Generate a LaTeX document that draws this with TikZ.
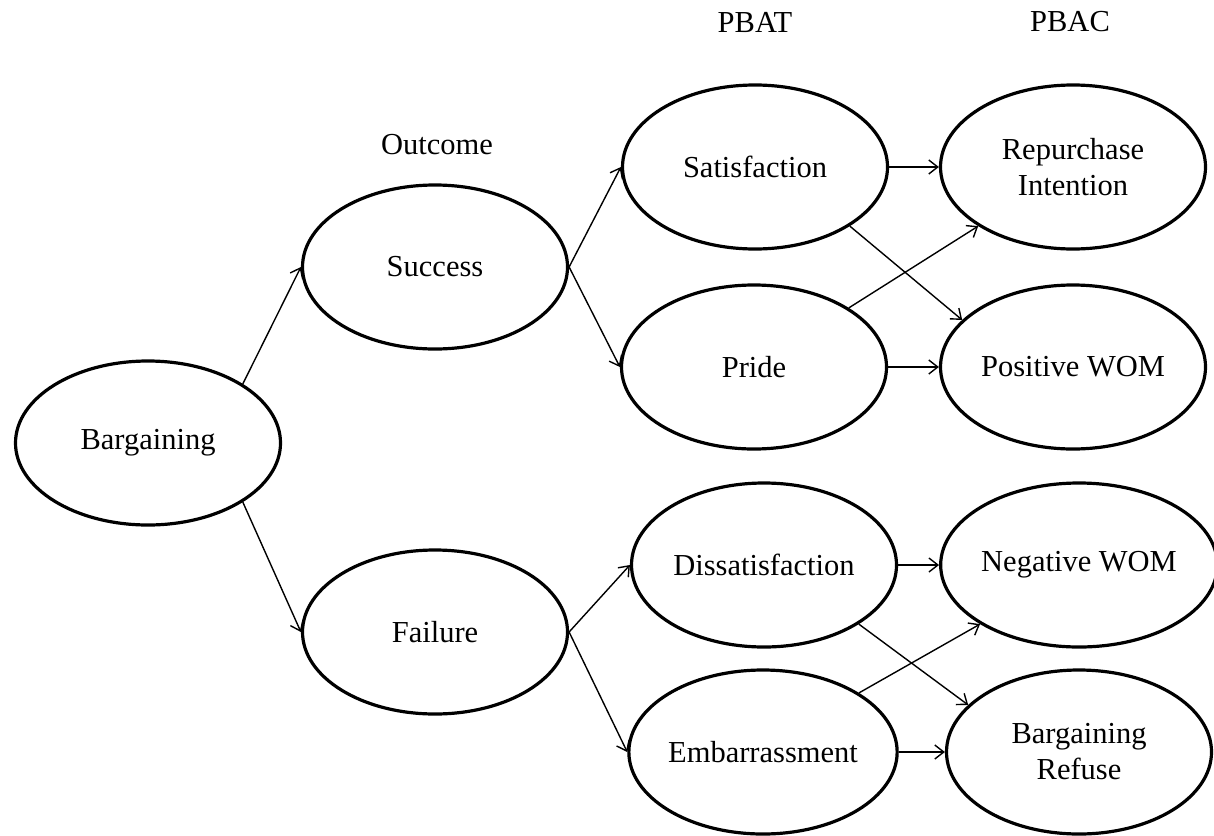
\documentclass[tikz,border=0pt]{standalone}
\usepackage{fontspec}
\setmainfont{Liberation Serif}
\usetikzlibrary{arrows.meta,shapes.geometric}
\begin{document}
\begin{tikzpicture}[x=1pt,y=-1pt,
  oval/.style={ellipse,draw=black,line width=3.2pt,minimum width=265pt,minimum height=164pt,inner sep=0pt,align=center,font=\fontsize{30.5}{36}\selectfont},
  lbl/.style={font=\fontsize{30.5}{36}\selectfont},
  conn/.style={line width=1.4pt,-{Straight Barb[length=9pt,width=14pt,line width=1.4pt]}}]
\useasboundingbox (0,0) rectangle (1214,835);
\node[oval] (barg) at (148,443) {Bargaining};
\node[oval] (succ) at (435,267) {Success};
\node[oval] (fail) at (435,632) {Failure};
\node[oval] (sat) at (755,167) {Satisfaction};
\node[oval] (pride) at (754,367) {Pride};
\node[oval] (dis) at (764,565) {Dissatisfaction};
\node[oval] (emb) at (763,752) {Embarrassment};
\node[oval] (rep) at (1073,167) {Repurchase\\Intention};
\node[oval] (pos) at (1073,367) {Positive WOM};
\node[oval] (neg) at (1079,565) {Negative WOM};
\node[oval] (ref) at (1079,752) {Bargaining\\Refuse};
\node[lbl] (outc) at (437,145) {Outcome};
\node[lbl] (pbat) at (755,22) {PBAT};
\node[lbl] (pbac) at (1070,22) {PBAC};
\draw[conn] (barg.north east) -- (succ.west);
\draw[conn] (barg.south east) -- (fail.west);
\draw[conn] (succ.east) -- (sat.west);
\draw[conn] (succ.east) -- (pride.west);
\draw[conn] (fail.east) -- (dis.west);
\draw[conn] (fail.east) -- (emb.west);
\draw[conn] (sat.east) -- (rep.west);
\draw[conn] (sat.south east) -- (pos.157);
\draw[conn] (pride.north east) -- (rep.south west);
\draw[conn] (pride.east) -- (pos.west);
\draw[conn] (dis.east) -- (neg.west);
\draw[conn] (dis.south east) -- (ref.157);
\draw[conn] (emb.north east) -- (neg.south west);
\draw[conn] (emb.east) -- (ref.west);
\end{tikzpicture}
\end{document}
